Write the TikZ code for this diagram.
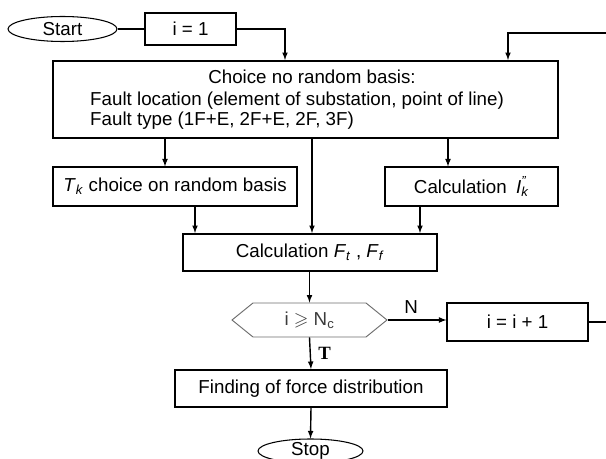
\documentclass[tikz,border=0pt]{standalone}
\usepackage{amssymb}
\usepackage{fontspec}
\setmainfont{Liberation Sans}
\newfontfamily\labelfont{Liberation Serif}
\usetikzlibrary{shapes,arrows,positioning}
\definecolor{linegray}{RGB}{110,110,110}
\definecolor{textgray}{RGB}{60,60,60}
\tikzset{
    % flow chart styles
    flowbox/.style={
        rectangle, draw=black, line width=0.9pt, fill=white,
        inner sep=0pt
    },
    heavybox/.style={
        flowbox, line width=1.7pt
    },
    terminal/.style={
        ellipse, draw=black, line width=0.9pt, fill=white,
        inner sep=0pt
    },
    decision/.style={
        signal, signal to=west and east, signal pointer angle=78,
        draw=linegray, line width=0.8pt, fill=white, inner sep=0pt,
        text=textgray
    },
    flow/.style={
        -latex, line width=1.2pt
    }
}

\begin{document}
\begin{tikzpicture}[x=0.03cm, y=-0.03cm, font=\fontsize{16}{19}\selectfont]

\useasboundingbox (0,0) rectangle (606,459);

% Start and counter
\node[terminal, minimum width=3.27cm, minimum height=0.75cm] (start) at (62.5,29) {Start};
\node[flowbox, minimum width=2.73cm, minimum height=0.96cm] (init) at (190.5,29) {i = 1};

% Choice box
\node[heavybox, minimum width=15.15cm, minimum height=2.31cm] (choice) at (305.5,99.5) {};
\node at (312,77) {Choice no random basis:};
\node[anchor=west, inner sep=0pt] at (90,101) {Fault location (element of substation, point of line)};
\node[anchor=west, inner sep=0pt] at (90,121) {Fault type (1F+E, 2F+E, 2F, 3F)};

% Random choice and short circuit current
\node[flowbox, minimum width=7.32cm, minimum height=1.17cm] (tk) at (175,186.5) {\textit{T}\textsubscript{\textit{k}} choice on random basis};
\node[flowbox, minimum width=5.19cm, minimum height=1.17cm] (ik) at (471.5,186.5) {Calculation\enspace\textit{I}\rlap{\textsuperscript{\textit{''}}}\textsubscript{\textit{k}}};

% Forces
\node[heavybox, minimum width=7.62cm, minimum height=1.11cm] (forces) at (310,252.5) {Calculation \textit{F}\textsubscript{\textit{t}} , \textit{F}\textsubscript{\textit{f}}};

% Test and increment
\node[decision, minimum width=4.65cm, minimum height=1.02cm] (test) at (309.5,320) {i $\geqslant$ N\textsubscript{c}};
\node[flowbox, minimum width=4.23cm, minimum height=1.14cm] (incr) at (517.5,322) {i = i + 1};

% Result and stop
\node[heavybox, minimum width=8.16cm, minimum height=1.11cm] (result) at (311,388.5) {Finding of force distribution};
\node[terminal, minimum width=3.15cm, minimum height=0.63cm] (stop) at (310.5,451) {Stop};

% Loop corners
\coordinate (entry) at (285,0);
\coordinate (back) at (508,33);
\coordinate (edge) at (612,33);

% Connectors
\draw[line width=0.9pt] (start) -- (init);
\draw[flow] (init.east) -| (entry |- choice.north);
\draw[flow] (choice.south -| 165,0) -- (165,0 |- tk.north);
\draw[flow] (choice.south -| 312,0) -- (312,0 |- forces.north);
\draw[flow] (choice.south -| 448,0) -- (448,0 |- ik.north);
\draw[flow] (tk.south -| 195,0) -- (195,0 |- forces.north);
\draw[flow] (ik.south -| 420,0) -- (420,0 |- forces.north);
\draw[flow] (forces.south -| test.north) -- (test.north);
\draw[flow] (test.east) -- (incr.west |- test.east) node[pos=0.4, above=2pt] {N};
\draw[flow] (incr.east) -| (edge) -- (back) -- (back |- choice.north);
\draw[flow] (test.south) -- (result.north) node[midway, right=3pt] {\labelfont\bfseries T};
\draw[flow] (result.south) -- (stop.north);

\end{tikzpicture}
\end{document}
